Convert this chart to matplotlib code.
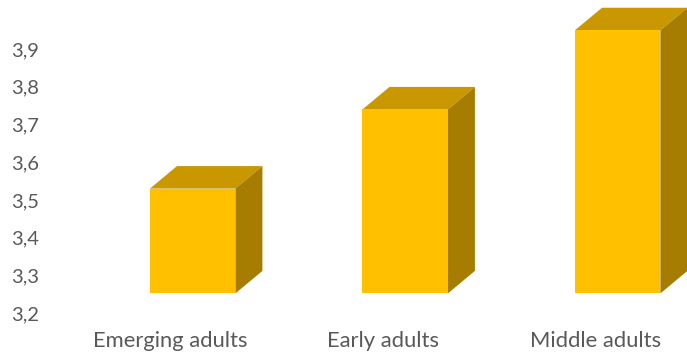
import matplotlib
matplotlib.use("Agg")
import matplotlib.pyplot as plt
from matplotlib.patches import Polygon
from matplotlib.transforms import ScaledTranslation, blended_transform_factory

categories = ["Emerging adults", "Early adults", "Middle adults"]
values = [3.53, 3.74, 3.95]
yticks = [3.2, 3.3, 3.4, 3.5, 3.6, 3.7, 3.8, 3.9]
ytick_labels = ["3,2", "3,3", "3,4", "3,5", "3,6", "3,7", "3,8", "3,9"]

FRONT = "#FFC000"
TOP = "#C99700"
SIDE = "#A67D00"
TEXT = "#595959"
FONT = "Lato"

W, H = 687, 356
fig = plt.figure(figsize=(W / 100, H / 100), dpi=100)
left_px = 50
ax = fig.add_axes([left_px / W, 0, 1 - left_px / W, 1])

# pixel-based layout mapping
px_per_x = 212.5
x0_px = 192.7
px_per_v = 377.0
v_ref_px = 313.0  # y pixel (from top) of 3.2
ax.set_xlim((left_px - x0_px) / px_per_x, (W - x0_px) / px_per_x)
ax.set_ylim(3.2 - (H - v_ref_px) / px_per_v, 3.2 + v_ref_px / px_per_v)

base = 3.252
width = 0.402
dx = 27 / px_per_x
dy = 22.5 / px_per_v

xs = list(range(len(categories)))
ax.bar(xs, [v - base for v in values], bottom=base, width=width,
       color=FRONT, edgecolor="none", zorder=3)
for x, v in zip(xs, values):
    l, r = x - width / 2, x + width / 2
    top = Polygon([(l, v), (r, v), (r + dx, v + dy), (l + dx, v + dy)],
                  closed=True, facecolor=TOP, edgecolor="none", zorder=2)
    side = Polygon([(r, base), (r, v), (r + dx, v + dy), (r + dx, base + dy)],
                   closed=True, facecolor=SIDE, edgecolor="none", zorder=2)
    ax.add_patch(top)
    ax.add_patch(side)

ax.set_yticks(yticks)
ax.set_yticklabels(ytick_labels, fontsize=14.5, color=TEXT, family=FONT)
ax.tick_params(axis="y", length=0, pad=8)
ax.set_xticks([])
for s in ax.spines.values():
    s.set_visible(False)

trans = blended_transform_factory(ax.transData, fig.transFigure) + \
    ScaledTranslation(-0.22, 0, fig.dpi_scale_trans)
for x, c in zip(xs, categories):
    ax.text(x, 1 - 341 / H, c, transform=trans, ha="center", va="center",
            fontsize=15.8, color=TEXT, family=FONT)

fig.savefig("out.png", dpi=100)
